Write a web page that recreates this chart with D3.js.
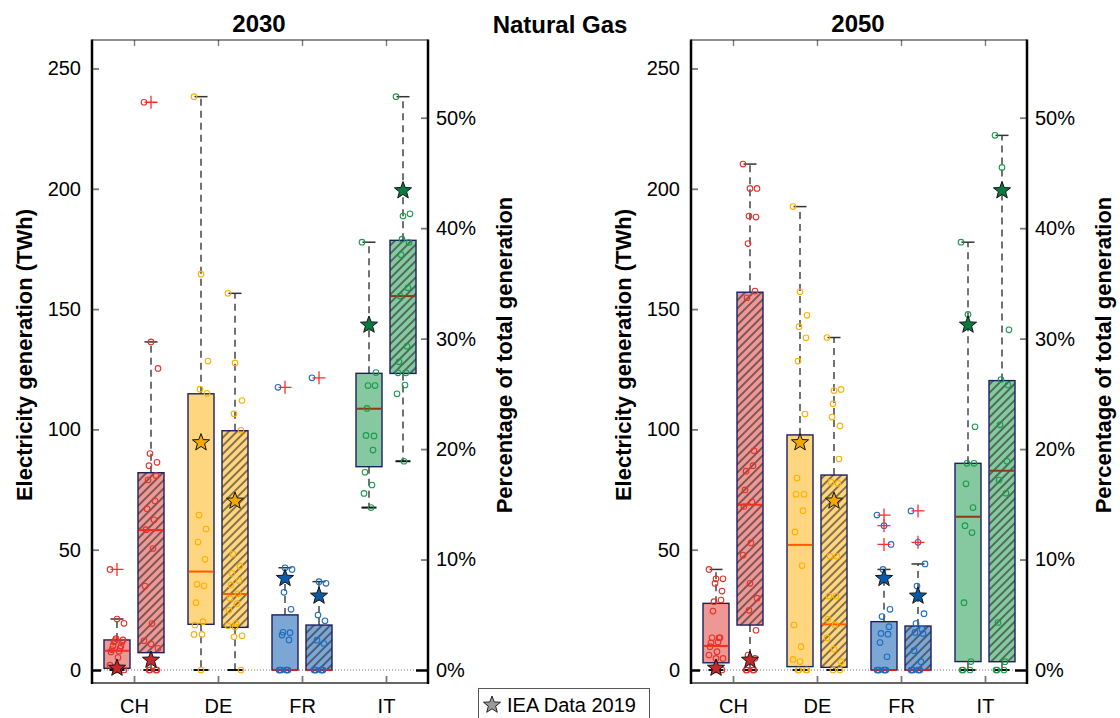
<!DOCTYPE html>
<html>
<head>
<meta charset="utf-8">
<script src="https://cdn.jsdelivr.net/npm/d3@7"></script>
<style>
  html, body { margin: 0; padding: 0; background: #fff; }
  svg { display: block; font-family: "Liberation Sans", Arial, Helvetica, sans-serif; }
</style>
</head>
<body>
<svg id="chart" width="1120" height="718"></svg>
<script>
// ---- Natural gas generation by country: scenario spread vs. IEA 2019 ----
const countries = ["CH", "DE", "FR", "IT"];
const years = ["2030", "2050"];
const twhTicks = [0, 50, 100, 150, 200, 250];
const pctTicks = [0, 10, 20, 30, 40, 50];

// IEA Data 2019 (same reference in both years)
const iea2019TWh = [0.8, 94.5, 38.1, 143.4];
const iea2019Pct = [0.9, 15.3, 6.7, 43.4];

// box statistics per country: [whisker low, Q1, median, Q3, whisker high]
const boxTWh2030 = [[0, 0.7, 8.0, 12.5, 21.2], [0, 19.0, 40.9, 114.8, 238.3], [0, 0, 0, 22.9, 42.5], [67.5, 84.5, 108.6, 123.3, 177.8]];
const boxPct2030 = [[0, 1.57, 12.67, 17.86, 29.7], [0, 3.86, 6.88, 21.66, 34.1], [0, 0, 0, 4.07, 8.0], [18.9, 26.85, 33.85, 38.9, 51.9]];
const boxTWh2050 = [[0, 3.0, 10.0, 27.7, 41.8], [0, 1.4, 52.0, 97.7, 192.6], [0, 0, 0, 20.1, 41.8], [0, 3.5, 63.7, 85.9, 177.8]];
const boxPct2050 = [[0, 4.07, 14.96, 34.2, 45.8], [0, 0.24, 4.13, 17.65, 30.1], [0, 0, 0, 3.98, 9.6], [0, 0.75, 18.04, 26.2, 48.4]];

// outliers
const outTWh2030 = [[41.8], [], [117.5], []];
const outPct2030 = [[51.4], [], [26.45], []];
const outTWh2050 = [[], [], [64.4, 60.0, 52.2], []];
const outPct2050 = [[], [], [14.4, 11.56], []];

// individual scenario results
const ptsTWh2030 = [
  [41.8, 21.2, 19.4, 13.0, 12.5, 12.2, 11.6, 11.6, 10.0, 10.0, 9.0, 8.5, 7.8, 7.5, 5.2, 2.0, 0.5, 0, 0],
  [238.3, 164.5, 128.4, 116.7, 115.0, 64.4, 58.6, 53.2, 46.0, 35.6, 35.0, 28.0, 20.1, 18.7, 14.8, 14.8, 0],
  [117.5, 42.5, 41.8, 32.3, 25.2, 15.7, 15.5, 14.5, 12.5, 0, 0, 0, 0, 0, 0],
  [177.8, 142.4, 123.6, 118.2, 118.2, 108.7, 97.3, 97.5, 91.4, 82.2, 76.9, 73.4, 67.5]
];
const ptsPct2030 = [
  [51.4, 29.7, 27.3, 19.6, 18.8, 18.5, 17.6, 17.2, 15.3, 14.6, 13.6, 12.7, 11.0, 7.6, 4.2, 2.65, 2.35, 1.96, 0, 0, 0, 0],
  [34.1, 27.8, 24.4, 23.2, 21.7, 10.5, 9.4, 8.75, 8.1, 7.7, 6.9, 6.5, 6.0, 5.4, 4.2, 4.0, 3.9, 3.1, 3.0, 0],
  [26.45, 8.0, 7.85, 4.98, 4.46, 2.7, 2.4, 0, 0, 0, 0, 0, 0],
  [51.9, 41.1, 41.3, 39.0, 38.7, 37.6, 34.6, 33.85, 29.3, 27.9, 26.9, 26.9, 25.8, 25.0, 18.9]
];
const ptsTWh2050 = [
  [41.8, 37.9, 37.9, 36.0, 32.8, 28.4, 29.1, 24.5, 13.4, 13.4, 13.4, 11.3, 11.6, 9.7, 7.6, 6.2, 4.8, 4.8, 0, 0],
  [192.6, 157.2, 147.4, 142.7, 138.1, 128.4, 106.4, 79.8, 73.0, 73.0, 66.2, 57.4, 43.4, 18.7, 9.7, 4.4, 3.5, 0, 0, 0, 0],
  [64.4, 60.0, 52.2, 41.8, 25.2, 22.2, 18.0, 15.2, 14.9, 11.4, 5.5, 0, 0, 0, 0, 0, 0],
  [177.8, 147.8, 101.1, 85.9, 85.9, 77.4, 67.5, 60.0, 57.1, 28.0, 3.5, 0, 0, 0]
];
const ptsPct2050 = [
  [45.8, 43.6, 43.6, 41.1, 41.0, 38.6, 34.3, 33.7, 19.85, 18.0, 18.5, 16.3, 15.2, 14.8, 11.5, 10.4, 7.85, 6.5, 5.4, 3.6, 1.36, 1.06, 0, 0, 0, 0],
  [30.1, 25.3, 25.4, 24.1, 22.1, 22.9, 19.1, 17.0, 16.9, 10.3, 10.3, 6.7, 6.7, 4.6, 4.1, 2.9, 1.9, 0.75, 0, 0],
  [14.4, 11.56, 9.6, 7.6, 5.1, 4.2, 3.3, 3.4, 3.7, 1.75, 0.75, 0, 0, 0, 0, 0, 0],
  [48.4, 45.5, 30.8, 26.3, 25.8, 22.2, 18.9, 17.2, 16.0, 4.3, 0.75, 0, 0, 0]
];

// ---- styling ----
const boxFill   = ["#ee9896", "#fed680", "#7ca7d5", "#86c8a0"];
const dotColor  = ["#e5332a", "#ffb000", "#1f6dbd", "#1b9a4c"];
const starFill  = ["#c4282a", "#f3a800", "#0b5aa5", "#0b7a40"];
const medColor  = ["#ff2a1a", "#ff5a00", "#e41a1c", "#8b3a12"];
const boxStroke = "#1c2060";

const TOP = 40, BOTTOM = 683;
const yT = d3.scaleLinear().domain([0, 250]).range([670, 68.5]);
const yP = d3.scaleLinear().domain([0, 50]).range([670, 117.7]);

const svg = d3.select("#chart");
const defs = svg.append("defs");
const hatch = defs.append("pattern")
  .attr("id", "hatch")
  .attr("patternUnits", "userSpaceOnUse")
  .attr("width", 5.8).attr("height", 5.8)
  .attr("patternTransform", "rotate(45)");
hatch.append("line")
  .attr("x1", 2.9).attr("y1", 0).attr("x2", 2.9).attr("y2", 5.8)
  .attr("stroke", "#222").attr("stroke-width", 1.1);

function starPath(R, r) {
  const p = [];
  for (let k = 0; k < 10; k++) {
    const a = -Math.PI / 2 + k * Math.PI / 5;
    const rad = k % 2 ? r : R;
    p.push([rad * Math.cos(a), rad * Math.sin(a)]);
  }
  return "M" + p.map(d => d[0].toFixed(2) + "," + d[1].toFixed(2)).join("L") + "Z";
}
const STAR = starPath(9, 3.8);

// deterministic horizontal spread for scenario dots
const spread = i => ((i * 7) % 15) - 7;

const panels = [
  { year: years[0], x0: 92, x1: 428, twh: boxTWh2030, pct: boxPct2030, oT: outTWh2030, oP: outPct2030, pT: ptsTWh2030, pP: ptsPct2030 },
  { year: years[1], x0: 691, x1: 1027, twh: boxTWh2050, pct: boxPct2050, oT: outTWh2050, oP: outPct2050, pT: ptsTWh2050, pP: ptsPct2050 }
];

panels.forEach(P => {
  const g = svg.append("g");
  const x = d3.scalePoint().domain(countries).range([P.x0, P.x1]).padding(0.5);

  // zero reference line
  g.append("line")
    .attr("x1", P.x0).attr("x2", P.x1).attr("y1", yT(0)).attr("y2", yT(0))
    .attr("stroke", "#666").attr("stroke-width", 0.9).attr("stroke-dasharray", "1,2");

  const groups = [];
  countries.forEach((c, i) => {
    groups.push({ i, cx: x(c) - 17, y: yT, stats: P.twh[i], outs: P.oT[i], pts: P.pT[i], star: iea2019TWh[i], hatched: false });
    groups.push({ i, cx: x(c) + 17, y: yP, stats: P.pct[i], outs: P.oP[i], pts: P.pP[i], star: iea2019Pct[i], hatched: true });
  });

  groups.forEach(G => {
    const [lo, q1, med, q3, hi] = G.stats;
    const s = G.y, cx = G.cx, hw = 13, capW = 6.5;
    const gg = g.append("g");

    // whiskers
    if (hi > q3) {
      gg.append("line").attr("x1", cx).attr("x2", cx).attr("y1", s(q3)).attr("y2", s(hi))
        .attr("stroke", "#444").attr("stroke-width", 1.5).attr("stroke-dasharray", "7,5");
      gg.append("line").attr("x1", cx - capW).attr("x2", cx + capW).attr("y1", s(hi)).attr("y2", s(hi))
        .attr("stroke", "#333").attr("stroke-width", 1.5);
    }
    if (lo < q1) {
      gg.append("line").attr("x1", cx).attr("x2", cx).attr("y1", s(q1)).attr("y2", s(lo))
        .attr("stroke", "#444").attr("stroke-width", 1.5).attr("stroke-dasharray", "7,5");
      gg.append("line").attr("x1", cx - capW - 1).attr("x2", cx + capW + 1).attr("y1", s(lo)).attr("y2", s(lo))
        .attr("stroke", "#111").attr("stroke-width", 2);
    }

    // box
    const by = s(q3), bh = s(q1) - s(q3);
    gg.append("rect").attr("x", cx - hw).attr("y", by).attr("width", 2 * hw).attr("height", bh)
      .attr("fill", boxFill[G.i]);
    if (G.hatched) {
      gg.append("rect").attr("x", cx - hw).attr("y", by).attr("width", 2 * hw).attr("height", bh)
        .attr("fill", "url(#hatch)");
    }
    gg.append("rect").attr("x", cx - hw).attr("y", by).attr("width", 2 * hw).attr("height", bh)
      .attr("fill", "none").attr("stroke", boxStroke).attr("stroke-width", 1.4);

    // median
    gg.append("line").attr("x1", cx - hw + 0.7).attr("x2", cx + hw - 0.7).attr("y1", s(med)).attr("y2", s(med))
      .attr("stroke", medColor[G.i]).attr("stroke-width", 2);

    // scenario dots
    gg.selectAll("circle.pt").data(G.pts).join("circle").attr("class", "pt")
      .attr("cx", (d, k) => cx + spread(k)).attr("cy", d => s(d)).attr("r", 2.8)
      .attr("fill", "none").attr("stroke", dotColor[G.i]).attr("stroke-width", 1.1);

    // outliers
    G.outs.forEach(v => {
      gg.append("path").attr("d", `M${cx - 6.5},${s(v)}H${cx + 6.5}M${cx},${s(v) - 6.5}V${s(v) + 6.5}`)
        .attr("stroke", "#ff2b2b").attr("stroke-width", 1.3).attr("fill", "none");
    });

    // IEA reference
    gg.append("path").attr("d", STAR).attr("transform", `translate(${cx},${s(G.star)})`)
      .attr("fill", starFill[G.i]).attr("stroke", "#111").attr("stroke-width", 1);
  });

  // ---- axes ----
  const tickStyle = sel => {
    sel.select(".domain").remove();
    sel.selectAll(".tick line").attr("stroke", "#7a7a7a").attr("stroke-width", 1.8);
    sel.selectAll(".tick text").attr("fill", "#000").attr("font-size", 20)
      .attr("font-family", "'Liberation Sans', Arial, Helvetica, sans-serif");
  };

  const axL = g.append("g").attr("transform", `translate(${P.x0},0)`)
    .call(d3.axisLeft(yT).tickValues(twhTicks).tickSize(-7).tickPadding(11));
  tickStyle(axL);
  axL.selectAll(".tick").filter(d => d === 0).select("line")
    .attr("stroke", "#000").attr("stroke-width", 2.5).attr("x2", 9);

  const axR = g.append("g").attr("transform", `translate(${P.x1},0)`)
    .call(d3.axisRight(yP).tickValues(pctTicks).tickFormat(d => d + "%").tickSize(-7).tickPadding(8));
  tickStyle(axR);
  axR.selectAll(".tick").filter(d => d === 0).select("line")
    .attr("stroke", "#000").attr("stroke-width", 2.5).attr("x2", -12);

  const axB = g.append("g").attr("transform", `translate(0,${BOTTOM})`)
    .call(d3.axisBottom(x).tickSize(-7).tickPadding(16));
  tickStyle(axB);

  const axT = g.append("g").attr("transform", `translate(0,${TOP})`)
    .call(d3.axisTop(x).tickSize(-6).tickFormat(""));
  tickStyle(axT);
  axT.selectAll(".tick line").attr("stroke-width", 1.4);

  // frame
  g.append("line").attr("x1", P.x0).attr("x2", P.x1).attr("y1", TOP).attr("y2", TOP)
    .attr("stroke", "#222").attr("stroke-width", 1);
  g.append("line").attr("x1", P.x0).attr("x2", P.x1).attr("y1", BOTTOM).attr("y2", BOTTOM)
    .attr("stroke", "#666").attr("stroke-width", 2);
  [P.x0, P.x1].forEach(xx => g.append("line").attr("x1", xx).attr("x2", xx)
    .attr("y1", TOP - 0.5).attr("y2", BOTTOM + 1).attr("stroke", "#000").attr("stroke-width", 2.5));

  // titles & axis labels
  g.append("text").attr("x", (P.x0 + P.x1) / 2 - 1).attr("y", 32).attr("text-anchor", "middle")
    .attr("font-size", 24).attr("font-weight", "bold").text(P.year);

  g.append("text").attr("transform", `translate(${P.x0 - 60},355) rotate(-90)`)
    .attr("text-anchor", "middle").attr("font-size", 22).attr("font-weight", "bold")
    .text("Electricity generation (TWh)");
  g.append("text").attr("transform", `translate(${P.x1 + 84},355) rotate(-90)`)
    .attr("text-anchor", "middle").attr("font-size", 22).attr("font-weight", "bold")
    .text("Percentage of total generation");
});

svg.append("text").attr("x", 560).attr("y", 33).attr("text-anchor", "middle")
  .attr("font-size", 24).attr("font-weight", "bold").text("Natural Gas");

// legend
const lg = svg.append("g");
lg.append("rect").attr("x", 478.5).attr("y", 688.5).attr("width", 171).attr("height", 40)
  .attr("fill", "#fff").attr("stroke", "#555").attr("stroke-width", 1);
lg.append("path").attr("d", STAR).attr("transform", "translate(492,705)")
  .attr("fill", "#9a9a9a").attr("stroke", "#222").attr("stroke-width", 1);
lg.append("text").attr("x", 507).attr("y", 712).attr("font-size", 20).text("IEA Data 2019");
</script>
</body>
</html>
